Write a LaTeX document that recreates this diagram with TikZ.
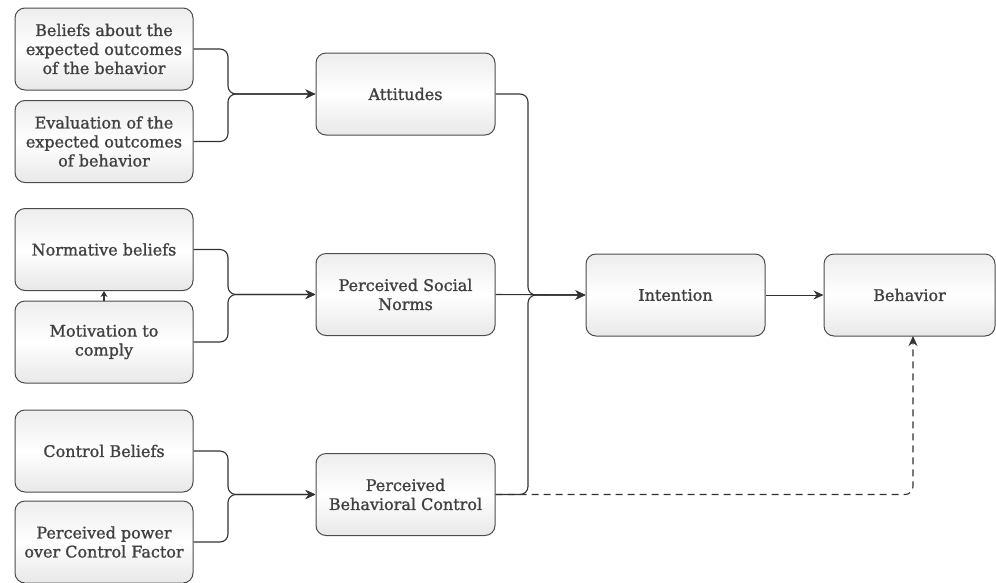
\documentclass[tikz,border=0pt]{standalone}
\usepackage{fontspec}
\setmainfont{DejaVu Serif}
\newfontfamily\boxfont{DejaVu Serif}[FakeBold=1.2]
\usetikzlibrary{arrows.meta}
\begin{document}
\begin{tikzpicture}[x=1pt,y=-1pt,
  box/.style={draw=black!70, line width=1pt, rounded corners=10pt,
    top color=gray!14, bottom color=gray!18, middle color=white,
    minimum width=178pt, minimum height=82pt, align=center,
    font=\boxfont\fontsize{16}{19}\selectfont, text=black!75, inner sep=1pt},
  conn/.style={draw=black!80, line width=1.1pt, rounded corners=8pt},
  tip/.style={-{Stealth[length=10pt,width=9pt]}}
]
\useasboundingbox (0,0) rectangle (996,582);

% left column
\node[box] (b1) at (104,49)    {Beliefs about the\\expected outcomes\\of the behavior};
\node[box] (b2) at (104,141.5) {Evaluation of the\\expected outcomes\\of behavior};
\node[box] (b3) at (104,249.5) {Normative beliefs};
\node[box] (b4) at (104,342)   {Motivation to\\comply};
\node[box] (b5) at (104,451)   {Control Beliefs};
\node[box] (b6) at (104,542)   {Perceived power\\over Control Factor};

% middle column
\node[box, minimum width=179pt] (att) at (405.5,94)    {Attitudes};
\node[box, minimum width=179pt] (psn) at (405.5,294.5) {Perceived Social\\Norms};
\node[box, minimum width=179pt] (pbc) at (405.5,494.5) {Perceived\\Behavioral Control};

% right
\node[box, minimum width=179pt] (int) at (675.5,295) {Intention};
\node[box, minimum width=171pt] (beh) at (909.5,295) {Behavior};

% junctions
\coordinate (jA) at (228,94);
\coordinate (jN) at (228,294.5);
\coordinate (jC) at (228,494.5);
\coordinate (jR) at (528,295);
\coordinate (dB) at (913,336);

% left brackets
\draw[conn,tip] (b1.east) -| (jA) -- (att.west);
\draw[conn,tip] (b2.east) -| (jA) -- (att.west);
\draw[conn,tip] (b3.east) -| (jN) -- (psn.west);
\draw[conn,tip] (b4.east) -| (jN) -- (psn.west);
\draw[conn,tip] (b5.east) -| (jC) -- (pbc.west);
\draw[conn,tip] (b6.east) -| (jC) -- (pbc.west);

% small arrow
\draw[conn,-{Stealth[length=6pt,width=7pt]}] (b4.north) -- (b3.south);

% right bracket
\draw[conn,tip] (att.east) -| (jR) -- (int.west);
\draw[conn,tip] (psn.east) -- (int.west);
\draw[conn,tip] (pbc.east) -| (jR) -- (int.west);

% intention to behavior
\draw[conn,line width=0.9pt,tip] (int.east) -- (beh.west);

% dashed
\draw[conn,dash pattern=on 7pt off 5pt,tip] (pbc.east) -| (dB);
\end{tikzpicture}
\end{document}
